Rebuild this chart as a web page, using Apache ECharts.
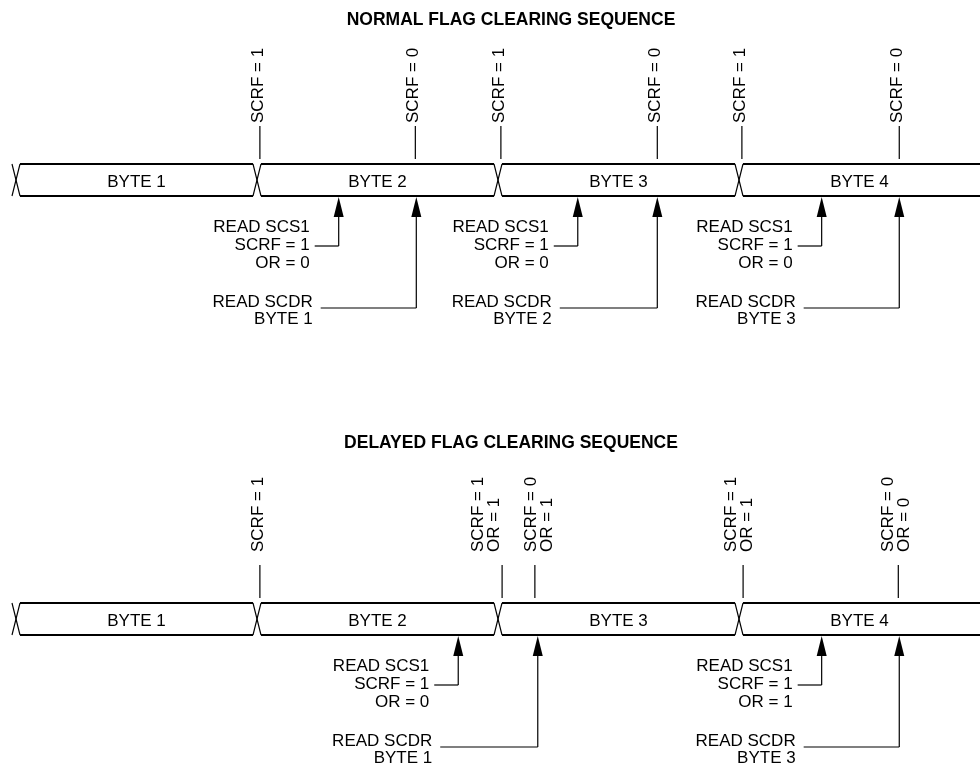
<!DOCTYPE html>
<html>
<head>
<meta charset="utf-8">
<script src="https://cdn.jsdelivr.net/npm/echarts@6/dist/echarts.min.js"></script>
<style>
  html, body { margin: 0; padding: 0; background: #fff; }
  #chart { width: 980px; height: 768px; }
</style>
</head>
<body>
<div id="chart"></div>
<script>
// time is counted in byte frames: 0 = first byte boundary, 1 = next one ...
const byteNames = ['BYTE 1', 'BYTE 2', 'BYTE 3', 'BYTE 4'];
const byteStarts = [0, 1, 2, 3];

const normalFlagTimes = [1.012, 1.657, 2.012, 2.661, 3.012, 3.665];
const normalFlagText = ['SCRF = 1', 'SCRF = 0', 'SCRF = 1', 'SCRF = 0', 'SCRF = 1', 'SCRF = 0'];
const normalScs1Times = [1.339, 2.331, 3.343];
const normalScs1Text = ['READ SCS1\nSCRF = 1\nOR = 0', 'READ SCS1\nSCRF = 1\nOR = 0', 'READ SCS1\nSCRF = 1\nOR = 0'];
const normalScdrTimes = [1.661, 2.661, 3.665];
const normalScdrText = ['READ SCDR\nBYTE 1', 'READ SCDR\nBYTE 2', 'READ SCDR\nBYTE 3'];

const delayedFlagTimes = [1.012, 2.017, 2.153, 3.017, 3.661];
const delayedFlagText = ['SCRF = 1', 'SCRF = 1\nOR = 1', 'SCRF = 0\nOR = 1', 'SCRF = 1\nOR = 1', 'SCRF = 0\nOR = 0'];
const delayedScs1Times = [1.835, 3.343];
const delayedScs1Text = ['READ SCS1\nSCRF = 1\nOR = 0', 'READ SCS1\nSCRF = 1\nOR = 1'];
const delayedScdrTimes = [2.165, 3.665];
const delayedScdrText = ['READ SCDR\nBYTE 1', 'READ SCDR\nBYTE 3'];

// layout
const FONT = '"Liberation Sans", Arial, Helvetica, sans-serif';
const BUS_H = 32;
const HALF_X = 4;
const TXT = { fontFamily: FONT, fontSize: 17, fill: '#000' };
const thin = { stroke: '#000', lineWidth: 1.2 };

const diagrams = [
  {
    title: 'NORMAL FLAG CLEARING SEQUENCE', titleY: 20, busTop: 164, labelGap: 41,
    flagTimes: normalFlagTimes, flagText: normalFlagText, flagNudge: [-2, -2, -2, -2, -2, -2],
    scs1Times: normalScs1Times, scs1Text: normalScs1Text,
    scdrTimes: normalScdrTimes, scdrText: normalScdrText
  },
  {
    title: 'DELAYED FLAG CLEARING SEQUENCE', titleY: 443, busTop: 603, labelGap: 51,
    flagTimes: delayedFlagTimes, flagText: delayedFlagText, flagNudge: [-2, -16, 4, -4, -2],
    scs1Times: delayedScs1Times, scs1Text: delayedScs1Text,
    scdrTimes: delayedScdrTimes, scdrText: delayedScdrText
  }
];

function arrowUp(x, tipY, fromY) {
  return [
    { type: 'line', shape: { x1: x, y1: fromY, x2: x, y2: tipY + 18 }, style: thin },
    { type: 'polygon', shape: { points: [[x, tipY], [x - 5, tipY + 20], [x + 5, tipY + 20]] }, style: { fill: '#000' } }
  ];
}

function busSeries(d) {
  return {
    type: 'custom', silent: true, animation: false,
    data: byteStarts.map(t => [t, 0]),
    renderItem(params, api) {
      const i = params.dataIndex;
      const t = api.value(0);
      const top = d.busTop, bot = top + BUS_H;
      const x0 = api.coord([t, 0])[0];
      const x1 = api.coord([t + 1, 0])[0];
      const last = i === byteStarts.length - 1;
      const xe = last ? x1 : x1 - HALF_X;
      const bus = { stroke: '#000', lineWidth: 2 };
      return {
        type: 'group',
        children: [
          { type: 'line', shape: { x1: x0 + HALF_X, y1: top, x2: xe, y2: top }, style: bus },
          { type: 'line', shape: { x1: x0 + HALF_X, y1: bot, x2: xe, y2: bot }, style: bus },
          { type: 'line', shape: { x1: x0 - HALF_X, y1: top, x2: x0 + HALF_X, y2: bot }, style: thin },
          { type: 'line', shape: { x1: x0 - HALF_X, y1: bot, x2: x0 + HALF_X, y2: top }, style: thin },
          {
            type: 'text', x: (x0 + x1) / 2, y: (top + bot) / 2 + 2,
            style: Object.assign({}, TXT, { text: byteNames[i], align: 'center', verticalAlign: 'middle' })
          }
        ]
      };
    }
  };
}

function flagSeries(d) {
  return {
    type: 'custom', silent: true, animation: false,
    data: d.flagTimes.map(t => [t, 0]),
    renderItem(params, api) {
      const i = params.dataIndex;
      const x = api.coord([api.value(0), 0])[0];
      const top = d.busTop;
      return {
        type: 'group',
        children: [
          { type: 'line', shape: { x1: x, y1: top - 38, x2: x, y2: top - 5 }, style: thin },
          {
            type: 'text', x: x + d.flagNudge[i], y: top - d.labelGap, rotation: Math.PI / 2,
            style: Object.assign({}, TXT, { text: d.flagText[i], align: 'left', verticalAlign: 'middle', lineHeight: 16 })
          }
        ]
      };
    }
  };
}

function readSeries(d) {
  return {
    type: 'custom', silent: true, animation: false,
    data: d.scs1Times.map(t => [t, 0]),
    renderItem(params, api) {
      const i = params.dataIndex;
      const bot = d.busTop + BUS_H;
      const xa = api.coord([api.value(0), 0])[0];
      const xb = api.coord([d.scdrTimes[i], 0])[0];
      const right = xa - 29;
      const c1 = bot + 50, c2 = bot + 112;
      return {
        type: 'group',
        children: [
          {
            type: 'text', x: right, y: bot + 49,
            style: Object.assign({}, TXT, { text: d.scs1Text[i], align: 'right', verticalAlign: 'middle', lineHeight: 18 })
          },
          { type: 'line', shape: { x1: right + 5, y1: c1, x2: xa, y2: c1 }, style: thin },
          ...arrowUp(xa, bot + 1, c1),
          {
            type: 'text', x: right + 3, y: bot + 115,
            style: Object.assign({}, TXT, { text: d.scdrText[i], align: 'right', verticalAlign: 'middle', lineHeight: 17 })
          },
          { type: 'line', shape: { x1: right + 11, y1: c2, x2: xb, y2: c2 }, style: thin },
          ...arrowUp(xb, bot + 1, c2)
        ]
      };
    }
  };
}

const series = [];
diagrams.forEach(d => {
  series.push(busSeries(d), flagSeries(d), readSeries(d));
});

const chart = echarts.init(document.getElementById('chart'));
chart.setOption({
  backgroundColor: '#fff',
  animation: false,
  grid: { left: 16, top: 0, width: 968, height: 768 },
  xAxis: { type: 'value', min: 0, max: 4, show: false },
  yAxis: { type: 'value', min: 0, max: 768, inverse: true, show: false },
  graphic: diagrams.map(d => ({
    type: 'text', x: 511, y: d.titleY,
    style: { text: d.title, fontFamily: FONT, fontSize: 17.5, fontWeight: 'bold', fill: '#000', align: 'center', verticalAlign: 'middle' }
  })),
  series: series
});
</script>
</body>
</html>
